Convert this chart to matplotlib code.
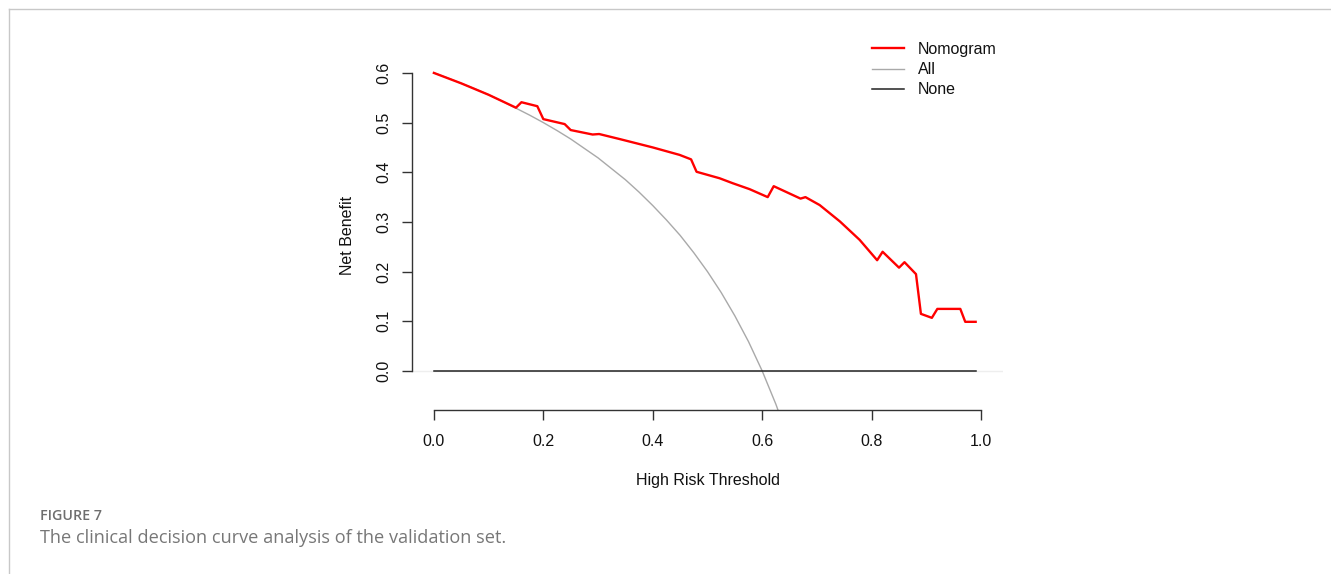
import matplotlib
matplotlib.use("Agg")
import matplotlib.pyplot as plt
from matplotlib.lines import Line2D

# ---- data ----
nomo_x = [0.0, 0.05, 0.10, 0.150, 0.160, 0.189, 0.200, 0.239, 0.250, 0.290, 0.302,
          0.339, 0.400, 0.449, 0.470, 0.480, 0.522, 0.546, 0.577, 0.610, 0.621,
          0.670, 0.679, 0.705, 0.742, 0.778, 0.810, 0.820, 0.850, 0.860, 0.881,
          0.890, 0.910, 0.920, 0.962, 0.971, 0.990]
nomo_y = [0.600, 0.579, 0.556, 0.530, 0.541, 0.533, 0.507, 0.497, 0.485, 0.476, 0.477,
          0.467, 0.450, 0.435, 0.426, 0.401, 0.388, 0.378, 0.366, 0.350, 0.372,
          0.347, 0.350, 0.334, 0.301, 0.264, 0.223, 0.240, 0.208, 0.219, 0.195,
          0.115, 0.107, 0.125, 0.125, 0.099, 0.099]

all_x = [0.0, 0.025, 0.05, 0.075, 0.10, 0.125, 0.15, 0.175, 0.20, 0.225, 0.25, 0.275,
         0.30, 0.325, 0.35, 0.375, 0.40, 0.425, 0.45, 0.475, 0.50, 0.525, 0.55,
         0.575, 0.60, 0.625, 0.65]
all_y = [0.600, 0.590, 0.579, 0.568, 0.556, 0.543, 0.529, 0.515, 0.500, 0.484, 0.467,
         0.448, 0.429, 0.407, 0.385, 0.360, 0.333, 0.304, 0.273, 0.238, 0.200,
         0.158, 0.111, 0.059, 0.000, -0.067, -0.143]

none_x = [0.0, 0.99]
none_y = [0.0, 0.0]

x_ticks = [0.0, 0.2, 0.4, 0.6, 0.8, 1.0]
y_ticks = [0.0, 0.1, 0.2, 0.3, 0.4, 0.5, 0.6]
series_labels = ["Nomogram", "All", "None"]

W, H = 1331, 574
fig = plt.figure(figsize=(W / 100, H / 100), dpi=100)
plt.rcParams['font.family'] = ['Liberation Sans', 'DejaVu Sans']

# page border (top and left thin gray lines)
fig.add_artist(Line2D([9 / W, 1], [1 - 9 / H, 1 - 9 / H], color="#c8c8c8", lw=1.0))
fig.add_artist(Line2D([9 / W, 9 / W], [0, 1 - 9 / H], color="#c8c8c8", lw=1.0))

left_px, right_px, bot_px, top_px = 412, 1003, 410, 60
ax = fig.add_axes([left_px / W, 1 - bot_px / H, (right_px - left_px) / W, (bot_px - top_px) / H])
ax.set_xlim(-0.04, 1.04)
ax.set_ylim(-0.0785, 0.626)

ax.axhline(0, color="#eeeeee", lw=1.0, zorder=1)
ax.plot(all_x, all_y, color="#a9a9a9", lw=1.0, label=series_labels[1], zorder=2)
ax.plot(none_x, none_y, color="#222222", lw=1.1, label=series_labels[2], zorder=2)
ax.plot(nomo_x, nomo_y, color="#ff0000", lw=1.7, label=series_labels[0], zorder=3)

for s in ["top", "right"]:
    ax.spines[s].set_visible(False)
ax.spines["left"].set_bounds(0, 0.6)
ax.spines["bottom"].set_bounds(0, 1.0)
for s in ["left", "bottom"]:
    ax.spines[s].set_color("#333333")
    ax.spines[s].set_linewidth(1.0)

ax.set_xticks(x_ticks)
ax.set_xticklabels([f"{v:.1f}" for v in x_ticks])
ax.set_yticks(y_ticks)
ax.set_yticklabels([f"{v:.1f}" for v in y_ticks], rotation=90, va="center")
ax.tick_params(axis="both", direction="out", length=7, width=1.0, color="#333333",
               labelsize=11.5, labelcolor="#111111")
ax.tick_params(axis="x", pad=10.5)
ax.tick_params(axis="y", pad=7.7)

ax.set_xlabel("High Risk Threshold", fontsize=11.5, color="#111111", labelpad=17)
ax.set_ylabel("Net Benefit", fontsize=11.5, color="#111111", labelpad=15.5)

handles = [Line2D([], [], color="#ff0000", lw=1.7),
           Line2D([], [], color="#a9a9a9", lw=1.0),
           Line2D([], [], color="#222222", lw=1.1)]
leg = ax.legend(handles, series_labels, loc="upper left",
                bbox_to_anchor=((872 - left_px) / (right_px - left_px), 1 + (top_px - 42) / (bot_px - top_px)),
                frameon=False, fontsize=11.5, handlelength=2.0, handletextpad=0.85,
                labelspacing=0.32, borderpad=0, borderaxespad=0)
for t in leg.get_texts():
    t.set_color("#111111")

fig.text(40 / W, 1 - 516 / H, "FIGURE 7", family="Open Sans", fontsize=10.3,
         color="#6e6e6e", va="center", ha="left", fontweight="semibold")
fig.text(40 / W, 1 - 538 / H, "The clinical decision curve analysis of the validation set.",
         family="Open Sans", fontsize=13.1, color="#777777", va="center", ha="left")

fig.savefig("out.png", dpi=100)
